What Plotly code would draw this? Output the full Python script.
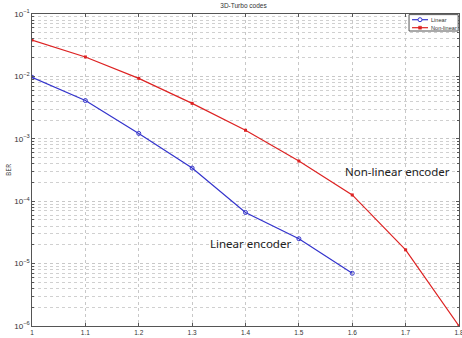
import plotly.graph_objects as go

snr_linear = [1.0, 1.1, 1.2, 1.3, 1.4, 1.5, 1.6]
ber_linear = [9.7e-3, 4.1e-3, 1.22e-3, 3.4e-4, 6.6e-5, 2.5e-5, 7.0e-6]
snr_nonlinear = [1.0, 1.1, 1.2, 1.3, 1.4, 1.5, 1.6, 1.7, 1.8]
ber_nonlinear = [3.83e-2, 2.05e-2, 9.3e-3, 3.7e-3, 1.37e-3, 4.4e-4, 1.26e-4, 1.66e-5, 1.0e-6]
x_ticks = [1.0, 1.1, 1.2, 1.3, 1.4, 1.5, 1.6, 1.7, 1.8]
x_tick_labels = ["1", "1.1", "1.2", "1.3", "1.4", "1.5", "1.6", "1.7", "1.8"]
series_names = ["Linear", "Non-linear"]
series_colors = ["#3333cc", "#dd2222"]

fig = go.Figure()
fig.add_trace(go.Scatter(
    x=snr_linear, y=ber_linear, name=series_names[0], mode="lines+markers",
    line=dict(color=series_colors[0], width=1.2),
    marker=dict(symbol="circle-open", size=4, color=series_colors[0], line=dict(width=1))))
fig.add_trace(go.Scatter(
    x=snr_nonlinear, y=ber_nonlinear, name=series_names[1], mode="lines+markers",
    line=dict(color=series_colors[1], width=1.2),
    marker=dict(symbol="square", size=3, color=series_colors[1])))

axis_common = dict(
    showline=True, linecolor="#555555", linewidth=1, mirror="allticks",
    ticks="inside", ticklen=3, tickcolor="#555555",
    showgrid=True, gridcolor="#c8c8c8", griddash="dot", gridwidth=1,
    zeroline=False, automargin=False, ticklabeloverflow="allow",
    tickfont=dict(size=6.5, color="#333333", family="Liberation Sans"),
)

fig.update_layout(
    width=462, height=338,
    margin=dict(l=32, r=3, t=14, b=12),
    paper_bgcolor="white", plot_bgcolor="white",
    title=dict(text="3D-Turbo codes", x=0.527, xanchor="center", y=0.99, yanchor="top",
               font=dict(size=6.5, color="#333333", family="Liberation Sans")),
    xaxis=dict(range=[1.0, 1.8], tickvals=x_ticks, ticktext=x_tick_labels, **axis_common),
    yaxis=dict(type="log", range=[-6, -1], dtick=1, exponentformat="power",
               title=dict(text="BER", standoff=1, font=dict(size=6.5, color="#333333")),
               minor=dict(showgrid=True, gridcolor="#d0d0d0", griddash="dot", ticks="inside",
                          ticklen=2, tickcolor="#555555"),
               **axis_common),
    showlegend=False,
)

# x-axis title placed below the tick labels (partly cut by the page edge, as in the reference)
fig.add_annotation(x=0.5, y=-0.047, xref="paper", yref="paper", text="SNR (dB)",
                   showarrow=False, xanchor="center", yanchor="middle",
                   font=dict(size=6.5, color="#333333", family="Liberation Sans"))

# compact MATLAB-style legend box (drawn in paper coordinates)
fig.add_shape(type="rect", xref="paper", yref="paper", x0=0.883, x1=0.998, y0=0.9455, y1=0.998,
              line=dict(color="#555555", width=1), fillcolor="white")
row_y = [0.9817, 0.9561]
for i in range(2):
    fig.add_shape(type="line", xref="paper", yref="paper", x0=0.890, x1=0.9274,
                  y0=row_y[i], y1=row_y[i], line=dict(color=series_colors[i], width=1.2))
    fig.add_annotation(x=0.931, y=row_y[i], xref="paper", yref="paper", text=series_names[i],
                       showarrow=False, xanchor="left", yanchor="middle", borderpad=0,
                       font=dict(size=5.6, color="#333333", family="Liberation Sans"))
fig.add_shape(type="circle", xref="paper", yref="paper", x0=0.9087 - 0.0047, x1=0.9087 + 0.0047,
              y0=row_y[0] - 0.0064, y1=row_y[0] + 0.0064,
              line=dict(color=series_colors[0], width=1), fillcolor="white")
fig.add_shape(type="rect", xref="paper", yref="paper", x0=0.9087 - 0.0035, x1=0.9087 + 0.0035,
              y0=row_y[1] - 0.0048, y1=row_y[1] + 0.0048,
              line=dict(color=series_colors[1], width=0.5), fillcolor=series_colors[1])

fig.add_annotation(x=1.41, y=-4.67, xref="x", yref="y", text="Linear encoder",
                   showarrow=False, font=dict(size=11.5, color="#222222", family="Noto Sans"))
fig.add_annotation(x=1.684, y=-3.516, xref="x", yref="y", text="Non-linear encoder",
                   showarrow=False, font=dict(size=11.5, color="#222222", family="Noto Sans"))

fig.write_html("out.html", config={"displayModeBar": False},
               post_script="document.body.style.margin='0';")
